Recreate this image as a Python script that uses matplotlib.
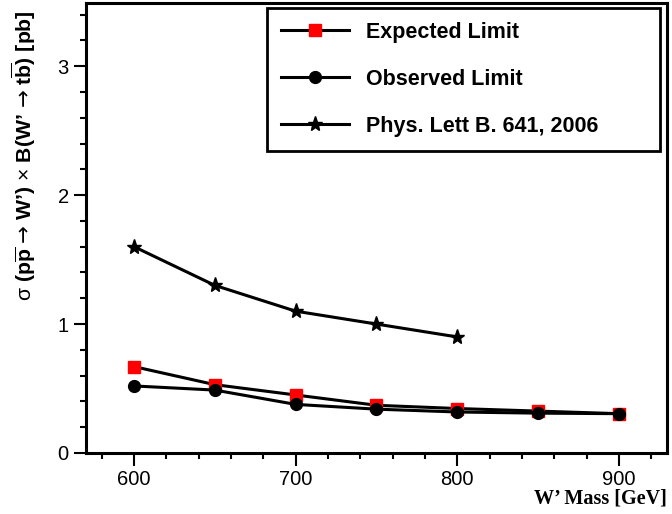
import matplotlib
matplotlib.use("Agg")
import matplotlib.pyplot as plt
from matplotlib.ticker import MultipleLocator

plt.rcParams['font.family'] = ['Liberation Sans', 'DejaVu Sans']
plt.rcParams['mathtext.fontset'] = 'custom'
plt.rcParams['mathtext.rm'] = 'Liberation Sans'
plt.rcParams['mathtext.bf'] = 'Liberation Sans:bold'
plt.rcParams['mathtext.it'] = 'Liberation Sans:italic'
plt.rcParams['mathtext.sf'] = 'DejaVu Sans'
plt.rcParams['mathtext.fallback'] = 'stixsans'

mass = [600, 650, 700, 750, 800, 850, 900]
expected = [0.67, 0.53, 0.45, 0.37, 0.345, 0.325, 0.305]
observed = [0.52, 0.488, 0.377, 0.34, 0.318, 0.309, 0.305]
mass_old = [600, 650, 700, 750, 800]
phys_lett = [1.60, 1.30, 1.10, 1.00, 0.90]

fig = plt.figure(figsize=(6.72, 5.14), dpi=100)
ax = fig.add_axes([86/672, 1-453/514, (667-86)/672, (453-3)/514])

lw = 2.2
ax.plot(mass, expected, color='black', lw=lw, marker='s', markersize=8.5,
        markerfacecolor='#ff0000', markeredgecolor='#ff0000', label='Expected Limit', zorder=3)
ax.plot(mass, observed, color='black', lw=lw, marker='o', markersize=8.5,
        markerfacecolor='black', markeredgecolor='black', label='Observed Limit', zorder=4)
ax.plot(mass_old, phys_lett, color='black', lw=lw, marker='*', markersize=11,
        markerfacecolor='black', markeredgecolor='black', label='Phys. Lett B. 641, 2006', zorder=3)

ax.set_xlim(570.3, 929.7)
ax.set_ylim(0, 3.49)
ax.xaxis.set_major_locator(MultipleLocator(100))
ax.xaxis.set_minor_locator(MultipleLocator(20))
ax.yaxis.set_major_locator(MultipleLocator(1))
ax.yaxis.set_minor_locator(MultipleLocator(0.2))
ax.tick_params(which='both', direction='out', top=False, right=False, width=1.5,
               labelsize=14.5, pad=3.5)
ax.tick_params(which='major', length=9)
ax.tick_params(which='minor', length=4.5)
for s in ax.spines.values():
    s.set_linewidth(2.2)

ax.set_xlabel("W\u2019 Mass [GeV]", fontsize=14.5, fontweight='bold', family='Liberation Serif')
ax.xaxis.set_label_coords(1.0, -0.08)
ax.xaxis.label.set_horizontalalignment('right')
ax.xaxis.label.set_verticalalignment('top')

ylabel = (r"$\mathrm{σ}\ \mathbf{(p\overline{p}}\ \mathsf{→}\ \mathbf{W’)}\ \mathrm{×}\ "
          r"\mathbf{B(W’}\ \mathsf{→}\ \mathbf{t\overline{b})\ [pb]}$")
ax.set_ylabel(ylabel, fontsize=15.3)
ax.yaxis.set_label_coords(-0.082, 0.985)
ax.yaxis.label.set_horizontalalignment('right')

x0 = (267 - 86) / 581
y0 = (453 - 152) / 450
w = (660 - 267) / 581
h = (152 - 8) / 450
leg = ax.legend(loc='upper left', bbox_to_anchor=(x0, y0, w, h), mode='expand', frameon=True,
                fancybox=False, edgecolor='black', prop={'weight': 'bold', 'size': 15.5},
                handlelength=3.15, handletextpad=0.8, labelspacing=1.2, borderpad=0.65,
                borderaxespad=0)
leg.get_frame().set_linewidth(2.0)
leg.get_frame().set_alpha(1)

fig.savefig('out.png', dpi=100)
